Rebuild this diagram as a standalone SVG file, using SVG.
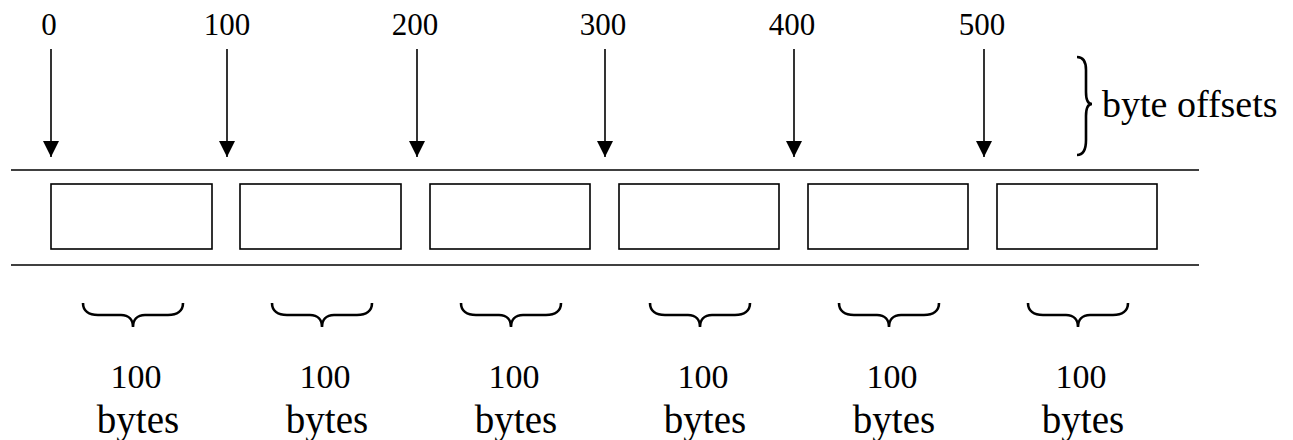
<svg xmlns="http://www.w3.org/2000/svg" width="1293" height="440" viewBox="0 0 1293 440">
<style>
.t{font-family:"Liberation Serif","Times New Roman",serif;fill:#000}
.top{font-size:31px;text-anchor:middle}
.num{font-size:34px;text-anchor:middle}
.wd{font-size:39px;text-anchor:middle}
.lbl{font-size:38px}
.box{fill:#fff;stroke:#000;stroke-width:1.6}
.ln{stroke:#000;stroke-width:1.6;fill:none}
.br{stroke:#000;stroke-width:2.6;fill:none}
</style>
<defs>
<marker id="ah" markerWidth="16" markerHeight="16" viewBox="0 0 16 16" refX="16" refY="8" orient="auto" markerUnits="userSpaceOnUse">
<path d="M0,0 L16,8 L0,16 Z" fill="#000"/>
</marker>
</defs>
<rect width="1293" height="440" fill="#fff"/>
<g id="rails">
<line class="ln" x1="11" y1="170" x2="1199" y2="170"/>
<line class="ln" x1="11" y1="265" x2="1199" y2="265"/>
</g>
<g id="block1"><rect class="box" x="51" y="184" width="161" height="65"/></g>
<g id="block2"><rect class="box" x="240" y="184" width="161" height="65"/></g>
<g id="block3"><rect class="box" x="430" y="184" width="160" height="65"/></g>
<g id="block4"><rect class="box" x="619" y="184" width="160" height="65"/></g>
<g id="block5"><rect class="box" x="808" y="184" width="160" height="65"/></g>
<g id="block6"><rect class="box" x="997" y="184" width="160" height="65"/></g>
<g id="offsets">
<text class="t top" x="49" y="35">0</text>
<text class="t top" x="227" y="35">100</text>
<text class="t top" x="415" y="35">200</text>
<text class="t top" x="603" y="35">300</text>
<text class="t top" x="792" y="35">400</text>
<text class="t top" x="982" y="35">500</text>
</g>
<g id="connectors">
<line class="ln" x1="51" y1="49" x2="51" y2="157" marker-end="url(#ah)"/>
<line class="ln" x1="227" y1="49" x2="227" y2="157" marker-end="url(#ah)"/>
<line class="ln" x1="417" y1="49" x2="417" y2="157" marker-end="url(#ah)"/>
<line class="ln" x1="605" y1="49" x2="605" y2="157" marker-end="url(#ah)"/>
<line class="ln" x1="794" y1="49" x2="794" y2="157" marker-end="url(#ah)"/>
<line class="ln" x1="984" y1="49" x2="984" y2="157" marker-end="url(#ah)"/>
</g>
<g id="offset-brace">
<path class="br" d="M1077,57 C1084,57 1086,62 1086,70 L1086,92 C1086,99 1088,104 1092,104 C1088,104 1086,109 1086,116 L1086,140 C1086,148 1084,155 1077,155"/>
<text class="t lbl" x="1102" y="117">byte offsets</text>
</g>
<g id="size-braces">
<path class="br" d="M83,303 C83,311 89,315 98,315 L121,315 C129,315 133,320 133,327 C133,320 137,315 145,315 L168,315 C177,315 183,311 183,303"/>
<path class="br" d="M272,303 C272,311 278,315 287,315 L310,315 C318,315 322,320 322,327 C322,320 326,315 334,315 L357,315 C366,315 372,311 372,303"/>
<path class="br" d="M461,303 C461,311 467,315 476,315 L499,315 C507,315 511,320 511,327 C511,320 515,315 523,315 L546,315 C555,315 561,311 561,303"/>
<path class="br" d="M650,303 C650,311 656,315 665,315 L688,315 C696,315 700,320 700,327 C700,320 704,315 712,315 L735,315 C744,315 750,311 750,303"/>
<path class="br" d="M839,303 C839,311 845,315 854,315 L877,315 C885,315 889,320 889,327 C889,320 893,315 901,315 L924,315 C933,315 939,311 939,303"/>
<path class="br" d="M1028,303 C1028,311 1034,315 1043,315 L1066,315 C1074,315 1078,320 1078,327 C1078,320 1082,315 1090,315 L1113,315 C1122,315 1128,311 1128,303"/>
</g>
<g id="sizes">
<text class="t num" x="136" y="388">100</text><text class="t wd" x="138" y="433">bytes</text>
<text class="t num" x="325" y="388">100</text><text class="t wd" x="327" y="433">bytes</text>
<text class="t num" x="514" y="388">100</text><text class="t wd" x="516" y="433">bytes</text>
<text class="t num" x="703" y="388">100</text><text class="t wd" x="705" y="433">bytes</text>
<text class="t num" x="892" y="388">100</text><text class="t wd" x="894" y="433">bytes</text>
<text class="t num" x="1081" y="388">100</text><text class="t wd" x="1083" y="433">bytes</text>
</g>
</svg>
